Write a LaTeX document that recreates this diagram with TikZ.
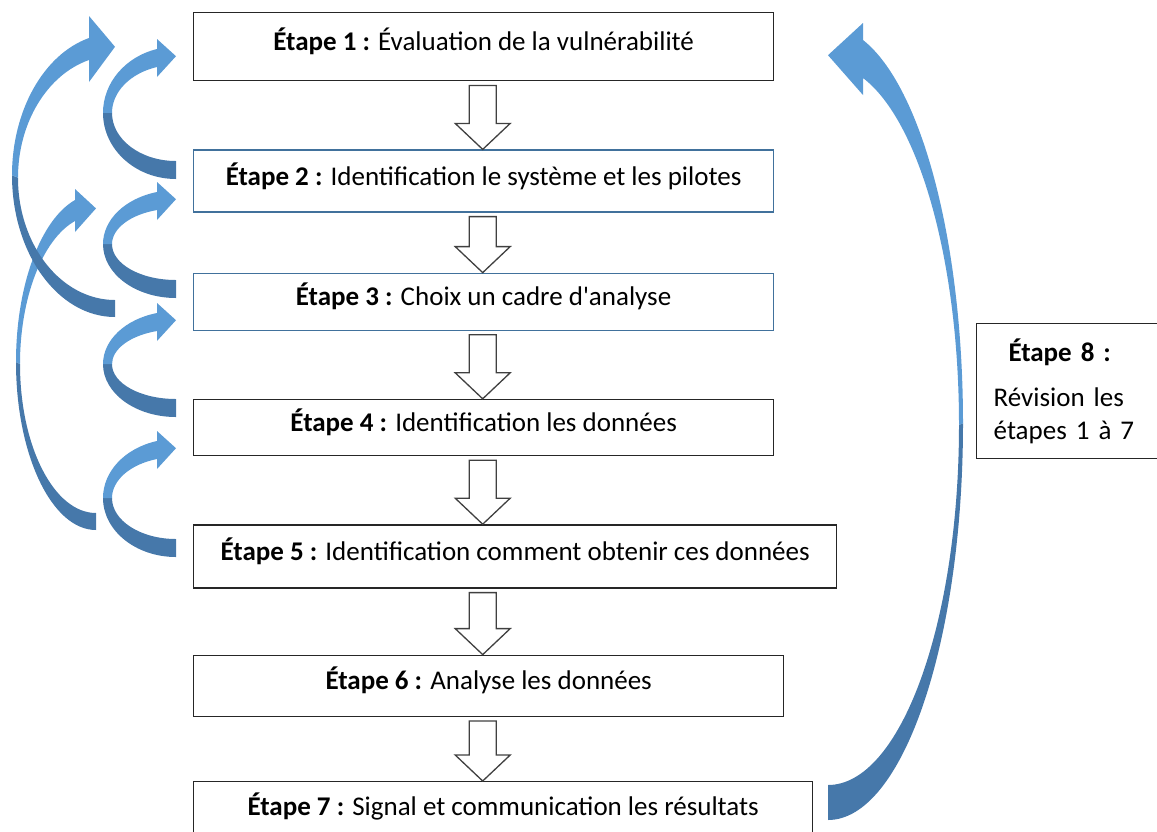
\documentclass[tikz,border=0pt]{standalone}
\usepackage{fontspec}
\setmainfont{Carlito}
\usetikzlibrary{positioning,calc}

\definecolor{ribbonlight}{RGB}{91,155,213}
\definecolor{ribbondark}{RGB}{70,120,170}
\definecolor{boxblue}{RGB}{65,113,156}

\tikzset{
  notebox/.style={draw=black!85, line width=1.4pt, anchor=north west,
    inner sep=0pt, font=\fontsize{27}{33}\selectfont},
  stepbox/.style={notebox, minimum width=580, text height=20pt, text depth=12pt},
  bluebox/.style={stepbox, draw=boxblue, line width=1.2pt},
  hollow/.style={draw=black!75, line width=1.3pt, fill=white},
}

% curved ribbon arrow, opening to the right
% #1 right x, #2 head length, #3/#4 outer/inner x radius,
% #5/#6 band at head base, #7/#8 tail bottom/top, #9 wing size
\newcommand{\ribbon}[9]{%
  \pgfmathsetmacro\rbao{acos(#2/#3)}
  \pgfmathsetmacro\rbai{acos(#2/#4)}
  \pgfmathsetmacro\rbory{(#7-#5)/(1+sin(\rbao))}
  \pgfmathsetmacro\rbiry{(#8-#6)/(1+sin(\rbai))}
  \pgfmathsetmacro\rboc{#7-\rbory}
  \pgfmathsetmacro\rbic{#8-\rbiry}
  \pgfmathsetmacro\rbtip{#5+0.4*(#6-#5)}
  \pgfmathsetmacro\rbeo{180+\rbao}
  \pgfmathsetmacro\rbei{180+\rbai}
  \fill[ribbondark] ({#1-#3},\rboc) arc[start angle=180, end angle=90, x radius=#3, y radius=\rbory]
    -- (#1,#8) arc[start angle=90, end angle=180, x radius=#4, y radius=\rbiry] -- cycle;
  \fill[ribbonlight] ({#1-#3},\rboc) arc[start angle=180, end angle=\rbeo, x radius=#3, y radius=\rbory]
    -- ({#1-#2},{#5-#9}) -- (#1,\rbtip) -- ({#1-#2},{#6+#9}) -- ({#1-#2},#6)
    arc[start angle=\rbei, end angle=180, x radius=#4, y radius=\rbiry] -- cycle;
}

\newcommand{\stepdown}[2]{%
  \draw[hollow] let \p1=(#1.south), \p2=(#2.north), \p3=(s1.south) in
    (\x3-14.5pt,\y1-4pt) -- (\x3-14.5pt,\y2+26pt) -- (\x3-28.5pt,\y2+26pt) -- (\x3-1pt,\y2)
    -- (\x3+26.5pt,\y2+26pt) -- (\x3+12.5pt,\y2+26pt) -- (\x3+12.5pt,\y1-4pt) -- cycle;
}

\begin{document}
\begin{tikzpicture}[x=1pt,y=-1pt]
\useasboundingbox (0,0) rectangle (1157,831);
\clip (0,0) rectangle (1157,831);

% long loops on the left
\ribbon{96}{21}{80}{76}{200}{221}{530}{513}{11}
\ribbon{115}{26}{103}{97}{38}{60}{317}{300}{22}
% short loops
\ribbon{176}{19}{73}{64}{49}{67}{179}{161}{10}
\ribbon{176}{19}{73}{64}{192}{210}{298}{280}{10}
\ribbon{176}{19}{73}{64}{313}{331}{417}{399}{10}
\ribbon{176}{19}{73}{64}{441}{459}{557}{539}{10}
% back to step 1
\begin{scope}[xscale=-1]
  \ribbon{-828}{35}{135}{131}{40}{78}{820}{785}{17}
\end{scope}

\node[stepbox, minimum height=68] (s1) at (193,12) {\textbf{Étape 1 :} Évaluation de la vulnérabilité};
\node[bluebox, minimum height=62, below=68pt of s1.south west, anchor=north west] (s2)
  {\textbf{Étape 2 :} Identification le système et les pilotes};
\node[bluebox, minimum height=57, below=60pt of s2.south west, anchor=north west] (s3)
  {\textbf{Étape 3 :} Choix un cadre d\textquotesingle analyse};
\node[stepbox, minimum height=56, below=68pt of s3.south west, anchor=north west] (s4)
  {\textbf{Étape 4 :} Identification les données};
\node[stepbox, minimum height=63, minimum width=643, below=68pt of s4.south west, anchor=north west] (s5)
  {\textbf{Étape 5 :} Identification comment obtenir ces données};
\node[stepbox, minimum height=61, minimum width=590, below=66pt of s5.south west, anchor=north west] (s6)
  {\textbf{Étape 6 :} Analyse les données};
\node[stepbox, minimum height=60, minimum width=619, below=64pt of s6.south west, anchor=north west] (s7)
  {\textbf{Étape 7 :} Signal et communication les résultats};

\node[notebox, minimum height=135, text width=160, inner xsep=17pt, align=left] (s8) at (976,323)
  {\makebox[132pt]{\bfseries Étape 8 :}\\[12pt] Révision les\\ étapes 1 à 7};

\stepdown{s1}{s2}
\stepdown{s2}{s3}
\stepdown{s3}{s4}
\stepdown{s4}{s5}
\stepdown{s5}{s6}
\stepdown{s6}{s7}
\end{tikzpicture}
\end{document}
